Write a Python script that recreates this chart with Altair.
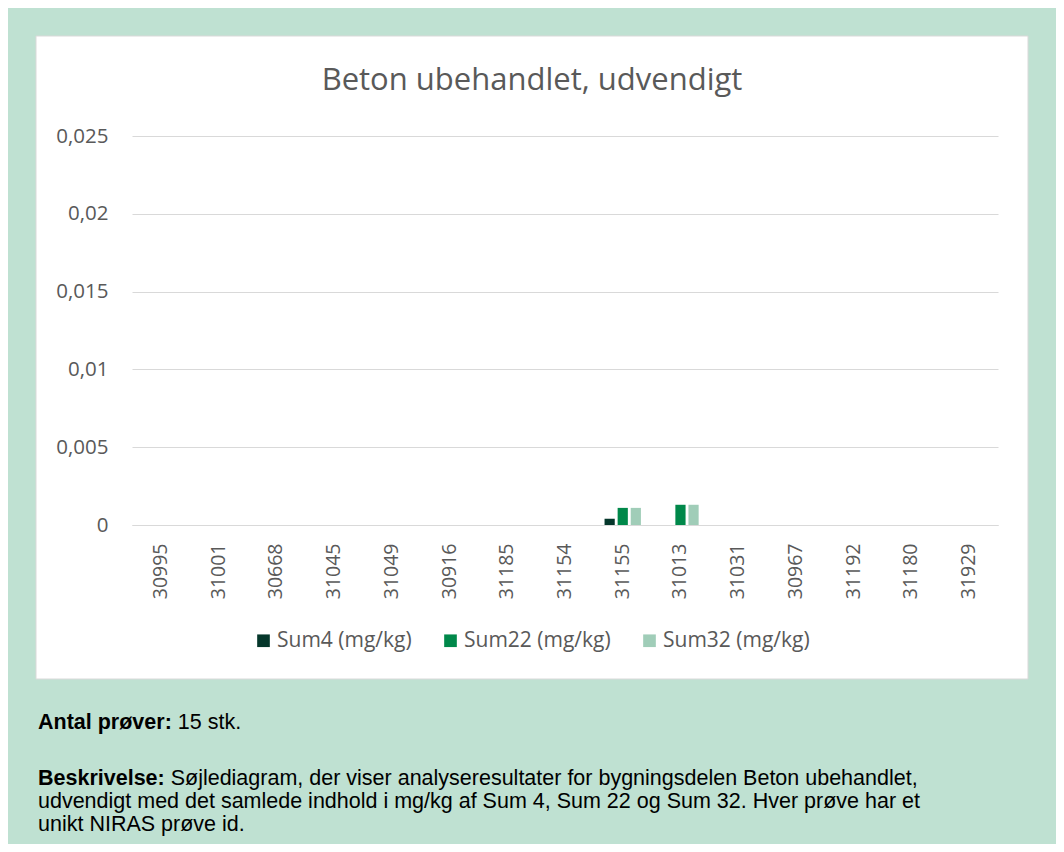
import altair as alt
import pandas as pd

# ---- data ----
sample_ids = ["30995", "31001", "30668", "31045", "31049", "30916", "31185", "31154",
              "31155", "31013", "31031", "30967", "31192", "31180", "31929"]
series_names = ["Sum4 (mg/kg)", "Sum22 (mg/kg)", "Sum32 (mg/kg)"]
sum4 = [0, 0, 0, 0, 0, 0, 0, 0, 0.0004, 0, 0, 0, 0, 0, 0]
sum22 = [0, 0, 0, 0, 0, 0, 0, 0, 0.0011, 0.0013, 0, 0, 0, 0, 0]
sum32 = [0, 0, 0, 0, 0, 0, 0, 0, 0.0011, 0.0013, 0, 0, 0, 0, 0]
series_colors = ["#05372B", "#00884A", "#A0CDB8"]
y_ticks = [0, 0.005, 0.01, 0.015, 0.02, 0.025]

chart_title = "Beton ubehandlet, udvendigt"
antal_label = "Antal prøver:"
antal_text = "15 stk."
beskr_label = "Beskrivelse:"
beskr_line1 = "Søjlediagram, der viser analyseresultater for bygningsdelen Beton ubehandlet,"
beskr_line2 = "udvendigt med det samlede indhold i mg/kg af Sum 4, Sum 22 og Sum 32. Hver prøve har et"
beskr_line3 = "unikt NIRAS prøve id."

rows = []
for name, vals in zip(series_names, [sum4, sum22, sum32]):
    for sid, v in zip(sample_ids, vals):
        rows.append({"id": sid, "series": name, "value": v})
df = pd.DataFrame(rows)

LABEL_COLOR = "#595959"
GRID = "#D9D9D9"
W, H = 866, 389
PAD_L, PAD_T = 124, 128
TOTAL_W, TOTAL_H = 1048, 836

one = pd.DataFrame({"k": [0]})

# white card behind the chart
card = alt.Chart(one).mark_rect(fill="white", stroke=GRID, strokeWidth=1).encode(
    x=alt.value(-96), x2=alt.value(896), y=alt.value(-100), y2=alt.value(543)
)

bars = alt.Chart(df).mark_bar().encode(
    x=alt.X("id:N", sort=sample_ids, title=None,
            scale=alt.Scale(paddingInner=0.37, paddingOuter=0.185),
            axis=alt.Axis(labelAngle=270, labelFont="Open Sans", labelFontSize=19.5,
                          labelColor=LABEL_COLOR, ticks=False, domain=True,
                          domainColor=GRID, domainWidth=1, labelPadding=18,
                          grid=False, zindex=1)),
    xOffset=alt.XOffset("series:N", sort=series_names,
                        scale=alt.Scale(paddingInner=0.22)),
    y=alt.Y("value:Q", title=None,
            scale=alt.Scale(domain=[0, 0.025], nice=False),
            axis=alt.Axis(values=y_ticks, labelFont="Open Sans", labelFontSize=20.5,
                          labelColor=LABEL_COLOR, ticks=False, domain=False,
                          gridColor=GRID, gridWidth=1, labelPadding=24, zindex=1,
                          labelExpr="replace('' + datum.value, '.', ',')")),
    color=alt.Color("series:N", sort=series_names,
                    scale=alt.Scale(domain=series_names, range=series_colors),
                    legend=alt.Legend(title=None, orient="none", direction="horizontal",
                                      legendX=121, legendY=494, columns=3,
                                      columnPadding=28, symbolType="square",
                                      symbolSize=160, symbolStrokeWidth=0,
                                      labelFont="Open Sans", labelFontSize=21,
                                      labelColor=LABEL_COLOR, labelOffset=3,
                                      padding=0)),
)

title_mark = alt.Chart(one).mark_text(
    font="Open Sans", fontSize=31, color=LABEL_COLOR, align="center", baseline="alphabetic"
).encode(x=alt.value(400), y=alt.value(-46), text=alt.value(chart_title))

FS = 21.5
TX = -94


def txt(s, x, y, bold=False):
    return alt.Chart(one).mark_text(
        font="Liberation Sans", fontSize=FS, color="black", align="left",
        baseline="alphabetic", fontWeight="bold" if bold else "normal"
    ).encode(x=alt.value(x), y=alt.value(y), text=alt.value(s))


bold_w_antal = 6.501 * FS
bold_w_beskr = 6.170 * FS

texts = [
    txt(antal_label, TX, 729 - 136, True),
    txt(antal_text, TX + bold_w_antal, 729 - 136),
    txt(beskr_label, TX, 785 - 136, True),
    txt(beskr_line1, TX + bold_w_beskr, 785 - 136),
    txt(beskr_line2, TX, 808 - 136),
    txt(beskr_line3, TX, 831 - 136),
]

chart = alt.layer(card, bars, title_mark, *texts).properties(
    width=W, height=H,
    autosize=alt.AutoSizeParams(type="none"),
    padding={"left": PAD_L, "top": PAD_T, "right": TOTAL_W - PAD_L - W,
             "bottom": TOTAL_H - PAD_T - H},
).configure(background="#BFE1D2").configure_view(stroke=None)

chart.save("out.html", embed_options={"renderer": "svg", "actions": False})
